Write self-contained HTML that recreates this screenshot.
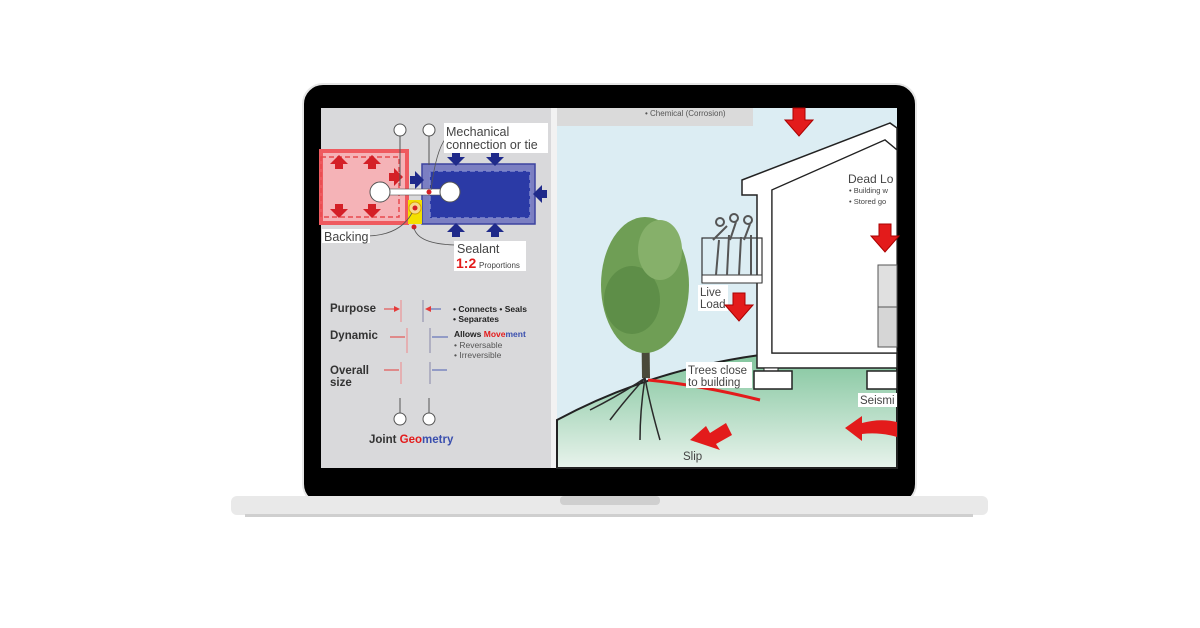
<!DOCTYPE html>
<html><head><meta charset="utf-8"><style>
html,body{margin:0;padding:0;background:#fff;width:1200px;height:628px;overflow:hidden}
svg{display:block}
text{font-family:"Liberation Sans",sans-serif}
</style></head><body>
<svg width="1200" height="628" viewBox="0 0 1200 628" xmlns="http://www.w3.org/2000/svg">
<defs>
<linearGradient id="gr" x1="0" y1="0" x2="0" y2="1"><stop offset="0" stop-color="#7fc49b"/><stop offset="1" stop-color="#e8f3ec"/></linearGradient>
<marker id="ar" markerWidth="6" markerHeight="6" refX="5" refY="3" orient="auto"><path d="M0,0 L6,3 L0,6 Z" fill="#e53a3a"/></marker>
<g id="da"><path d="M-4,-6 h8 v5 h5 l-9,9 l-9,-9 h5z"/></g>
<g id="bigdown"><path d="M-6,-14 h12 v12 h8 l-14,16 l-14,-16 h8z" fill="#e31b1b" stroke="#a00" stroke-width="1"/></g>
</defs>
<!-- laptop -->
<rect x="303" y="84" width="613" height="420" rx="20" fill="#000" stroke="#e6e6e6" stroke-width="2"/>
<rect x="231" y="496" width="757" height="19" rx="6" fill="#e9e9e9"/>
<rect x="245" y="514" width="728" height="3" fill="#cfcfcf"/>
<rect x="560" y="496" width="100" height="9" rx="4" fill="#cfcfcf"/>
<!-- left panel -->
<rect x="321" y="108" width="230" height="360" fill="#d9d9db"/>
<rect x="551" y="108" width="6" height="360" fill="#f2f2f2"/>
<!-- red box -->
<rect x="321" y="151" width="86" height="72" fill="#f5b3b7" stroke="#ef5a5f" stroke-width="4"/>
<rect x="321" y="157" width="78" height="60" fill="none" stroke="#e84a4f" stroke-width="1.5" stroke-dasharray="5,3"/>
<g fill="#d42027"><use href="#da" transform="translate(339,163) rotate(180)"/><use href="#da" transform="translate(372,163) rotate(180)"/><use href="#da" transform="translate(339,210)"/><use href="#da" transform="translate(372,210)"/><use href="#da" transform="translate(395,177) rotate(-90)"/></g>
<!-- blue box -->
<rect x="422" y="164" width="113" height="60" fill="#7b7fc2" stroke="#3c43a0" stroke-width="1.5"/>
<rect x="430" y="171" width="100" height="47" fill="#2b3aa6" stroke="#8088cc" stroke-width="1.5" stroke-dasharray="5,3"/>
<g fill="#1f2a8a"><use href="#da" transform="translate(456,158)"/><use href="#da" transform="translate(495,158)"/><use href="#da" transform="translate(456,231) rotate(180)"/><use href="#da" transform="translate(495,231) rotate(180)"/><use href="#da" transform="translate(541,194) rotate(90)"/><use href="#da" transform="translate(416,180) rotate(-90)"/></g>
<rect x="408" y="200" width="14" height="24" fill="#f3e000"/>
<circle cx="415" cy="208" r="6" fill="#f6d98a" stroke="#d9a300"/>
<circle cx="415" cy="208" r="2.5" fill="#d42027"/>
<rect x="380" y="189" width="70" height="6" fill="#fff" stroke="#555" stroke-width="0.6"/>
<circle cx="380" cy="192" r="10" fill="#fff" stroke="#555"/><circle cx="450" cy="192" r="10" fill="#fff" stroke="#555"/>
<circle cx="429" cy="192" r="2.5" fill="#d42027"/><circle cx="414" cy="227" r="2.5" fill="#d42027"/>
<circle cx="400" cy="130" r="6" fill="#fff" stroke="#555"/><line x1="400" y1="136" x2="400" y2="186" stroke="#555"/>
<circle cx="429" cy="130" r="6" fill="#fff" stroke="#555"/><line x1="429" y1="136" x2="429" y2="165" stroke="#555"/>
<path d="M431,190 Q436,150 446,138" fill="none" stroke="#555" stroke-width="0.8"/>
<path d="M368,236 Q400,235 412,213" fill="none" stroke="#555" stroke-width="0.8"/>
<path d="M414,228 Q418,244 455,245" fill="none" stroke="#555" stroke-width="0.8"/>
<rect x="444" y="123" width="104" height="30" fill="#fff"/>
<text x="446" y="136" font-size="12.5" fill="#444">Mechanical</text>
<text x="446" y="149" font-size="12.5" fill="#444">connection or tie</text>
<rect x="322" y="229" width="48" height="14" fill="#fff"/>
<text x="324" y="241" font-size="12.5" fill="#444">Backing</text>
<rect x="454" y="241" width="72" height="30" fill="#fff"/>
<text x="457" y="253" font-size="12.5" fill="#444">Sealant</text>
<text x="456" y="268" font-size="14" font-weight="bold" fill="#e31b1b">1:2</text>
<text x="479" y="268" font-size="8" fill="#444">Proportions</text>
<g font-weight="bold" fill="#333" font-size="11.5">
<text x="330" y="312">Purpose</text><text x="330" y="339">Dynamic</text><text x="330" y="374">Overall</text><text x="330" y="386">size</text>
<text x="369" y="443">Joint <tspan fill="#e31b1b">Geo</tspan><tspan fill="#3a4fae">metry</tspan></text>
</g>
<g stroke-width="1">
<line x1="384" y1="309" x2="399" y2="309" stroke="#e53a3a" marker-end="url(#ar)"/><line x1="401" y1="300" x2="401" y2="322" stroke="#e88"/>
<line x1="441" y1="309" x2="426" y2="309" stroke="#4a5db0" marker-end="url(#ar)"/><line x1="423" y1="300" x2="423" y2="322" stroke="#88a"/>
<line x1="390" y1="337" x2="405" y2="337" stroke="#e53a3a"/><line x1="407" y1="328" x2="407" y2="353" stroke="#e88"/>
<line x1="448" y1="337" x2="432" y2="337" stroke="#4a5db0"/><line x1="430" y1="328" x2="430" y2="353" stroke="#88a"/>
<line x1="384" y1="370" x2="399" y2="370" stroke="#e53a3a"/><line x1="401" y1="362" x2="401" y2="384" stroke="#e88"/>
<line x1="447" y1="370" x2="432" y2="370" stroke="#4a5db0"/><line x1="430" y1="362" x2="430" y2="384" stroke="#88a"/>
</g>
<g font-size="8.5" fill="#222"><text x="453" y="312" font-weight="bold">• Connects • Seals</text><text x="453" y="322" font-weight="bold">• Separates</text>
<text x="454" y="337" font-weight="bold">Allows <tspan fill="#e31b1b">Move</tspan><tspan fill="#3a4fae">ment</tspan></text><text x="454" y="348" fill="#555">• Reversable</text><text x="454" y="358" fill="#555">• Irreversible</text></g>
<line x1="400" y1="398" x2="400" y2="414" stroke="#555"/><circle cx="400" cy="419" r="6" fill="#fff" stroke="#555"/>
<line x1="429" y1="398" x2="429" y2="414" stroke="#555"/><circle cx="429" cy="419" r="6" fill="#fff" stroke="#555"/>
<!-- right panel -->
<rect x="557" y="108" width="340" height="360" fill="#dcedf3"/>
<rect x="557" y="108" width="196" height="18" fill="#dadada"/>
<text x="645" y="116" font-size="8" fill="#555">• Chemical (Corrosion)</text>
<path d="M557,420 Q650,370 760,355 L897,352 L897,468 L557,468Z" fill="url(#gr)" stroke="#222" stroke-width="2"/>
<!-- house -->
<path d="M742,180 L890,123 L897,128 L897,150 L885,140 L772,190 L772,353 L897,353 L897,368 L757,368 L757,195 L742,195Z" fill="#fff" stroke="#222" stroke-width="1.5"/>
<path d="M772,190 L885,140 L897,150 L897,353 L772,353Z" fill="#fff" stroke="#222" stroke-width="1.2"/>
<rect x="878" y="265" width="19" height="42" fill="#e0e0e0" stroke="#555"/>
<rect x="878" y="307" width="19" height="40" fill="#d6d6d6" stroke="#555"/>
<rect x="764" y="368" width="14" height="6" fill="#fff" stroke="#222"/>
<rect x="754" y="371" width="38" height="18" fill="#fff" stroke="#222" stroke-width="1.5"/>
<rect x="867" y="371" width="30" height="18" fill="#fff" stroke="#222" stroke-width="1.5"/>
<rect x="702" y="238" width="60" height="44" fill="none" stroke="#333" stroke-width="1.2"/>
<rect x="702" y="275" width="60" height="8" fill="#fff" stroke="#333"/>
<g stroke="#555" stroke-width="2" fill="none"><path d="M716,275 l3,-35 m8,35 l2,-40 m10,40 l2,-38 m10,38 l0,-40"/><circle cx="720" cy="222" r="4"/><circle cx="734" cy="218" r="4"/><circle cx="748" cy="220" r="4"/><path d="M713,240 l14,-14 M730,240 l6,-18 M744,240 l6,-16"/></g>
<!-- tree -->
<path d="M641,300 L642,378 L650,378 L649,300Z" fill="#4a4a3a"/>
<ellipse cx="645" cy="285" rx="44" ry="68" fill="#6f9e55"/>
<ellipse cx="632" cy="300" rx="28" ry="34" fill="#5e8e48"/>
<ellipse cx="660" cy="250" rx="22" ry="30" fill="#86b06a"/>
<g stroke="#2a2a2a" stroke-width="1.5" fill="none"><path d="M645,378 Q625,400 610,420 M645,378 Q650,405 660,440 M645,378 Q640,410 640,440 M645,378 Q620,395 590,410"/></g>
<path d="M648,380 Q700,385 760,400" stroke="#e31b1b" stroke-width="3" fill="none"/>
<rect x="686" y="362" width="66" height="26" fill="#fff"/>
<text x="688" y="374" font-size="11.5" fill="#444">Trees close</text><text x="688" y="386" font-size="11.5" fill="#444">to building</text>
<rect x="698" y="285" width="30" height="26" fill="#fff"/>
<text x="700" y="296" font-size="11.5" fill="#444">Live</text><text x="700" y="308" font-size="11.5" fill="#444">Load</text>
<text x="848" y="183" font-size="12" fill="#444">Dead Lo</text>
<text x="849" y="193" font-size="7.5" fill="#444">• Building w</text><text x="849" y="204" font-size="7.5" fill="#444">• Stored go</text>
<rect x="858" y="393" width="39" height="14" fill="#fff"/><text x="860" y="404" font-size="11.5" fill="#444">Seismi</text>
<text x="683" y="460" font-size="11.5" fill="#444">Slip</text>
<use href="#bigdown" transform="translate(799,122)"/>
<use href="#bigdown" transform="translate(739,307)"/>
<use href="#bigdown" transform="translate(885,238)"/>
<path d="M690,440 L706,426 L710,433 L726,423 L732,435 L716,444 L720,450Z" fill="#e31b1b"/>
<path d="M845,428 L862,416 L862,423 Q880,418 897,422 L897,437 Q880,432 862,434 L862,441Z" fill="#e31b1b"/>
</svg>
</body></html>
